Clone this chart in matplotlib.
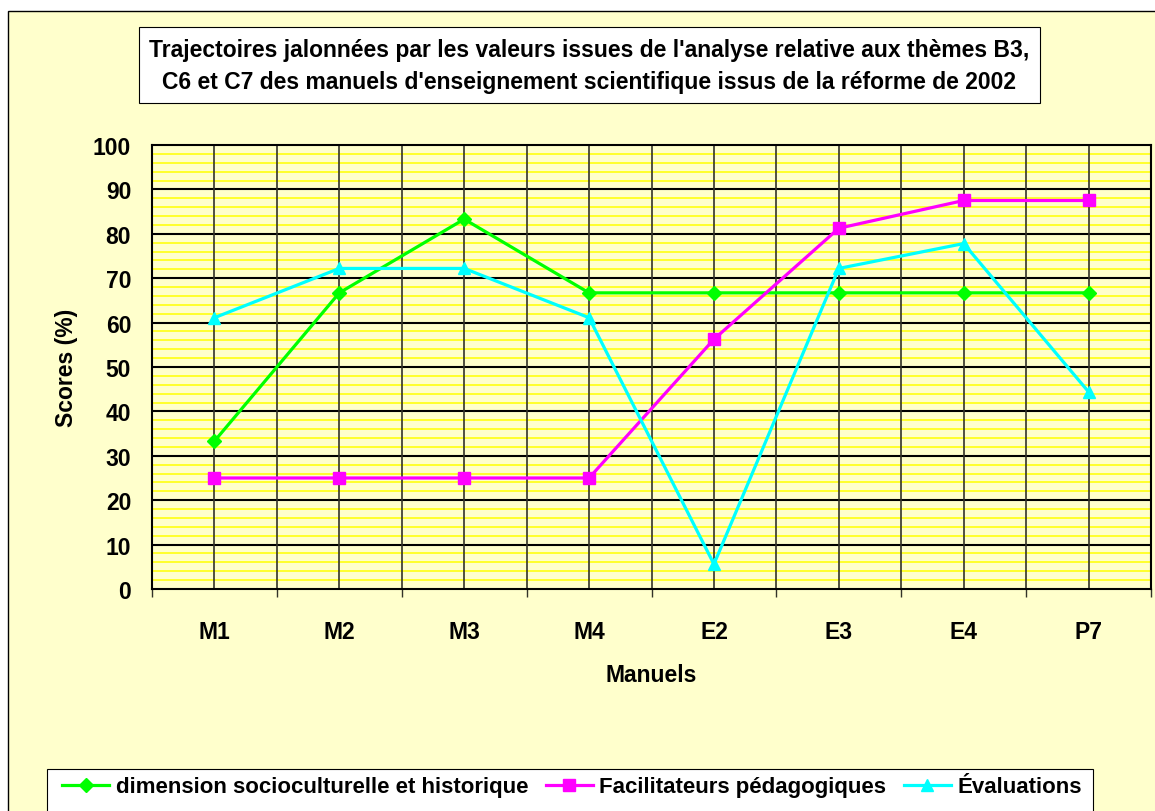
import matplotlib
matplotlib.use("Agg")
import matplotlib.pyplot as plt
from matplotlib.patches import Rectangle
import numpy as np

plt.rcParams['font.family'] = ['Liberation Sans', 'DejaVu Sans']

# Data
manuels = ["M1", "M2", "M3", "M4", "E2", "E3", "E4", "P7"]
socioculturelle = [33.3, 66.7, 83.3, 66.7, 66.7, 66.7, 66.7, 66.7]
facilitateurs = [25.0, 25.0, 25.0, 25.0, 56.25, 81.25, 87.5, 87.5]
evaluations = [61.1, 72.2, 72.2, 61.1, 5.6, 72.2, 77.8, 44.4]

series_labels = ["dimension socioculturelle et historique",
                 "Facilitateurs pédagogiques",
                 "Évaluations"]
title_text = ("Trajectoires jalonnées par les valeurs issues de l'analyse relative aux thèmes B3,\n"
              "C6 et C7 des manuels d'enseignement scientifique issus de la réforme de 2002")

W, H = 1155, 812
bg = "#FFFFCC"
fig = plt.figure(figsize=(W / 100, H / 100), dpi=100)
fig.patch.set_facecolor("white")

def px_rect(x0, y0, x1, y1):
    """Convert pixel box (top-left origin) to figure fraction rect."""
    return [x0 / W, 1 - y1 / H, (x1 - x0) / W, (y1 - y0) / H]

# Chart area background with border (extends past the right/bottom edge)
fig.patches.append(Rectangle((8 / W, 1 - 830 / H), (1175 - 8) / W, (830 - 12) / H,
                             transform=fig.transFigure, facecolor=bg,
                             edgecolor="black", linewidth=1.0, zorder=-5))

ax = fig.add_axes(px_rect(152, 146, 1151, 590))
ax.set_zorder(2)
ax.set_facecolor(bg)

x = np.arange(len(manuels))
ax.set_xlim(-0.5, len(manuels) - 0.5)
ax.set_ylim(0, 100)

# Minor (yellow) and major (black) horizontal grid
for v in np.arange(2, 100, 2):
    if v % 10:
        ax.axhline(v, color="#FFFF00", linewidth=1.1, zorder=1)
for v in np.arange(10, 100, 10):
    ax.axhline(v, color="black", linewidth=1.5, zorder=1.5)
# Vertical grid at category centres and boundaries
for v in np.arange(-0.5, len(manuels), 0.5):
    ax.axvline(v, color="#333328", linewidth=1.2, zorder=1.5)

ax.plot(x, socioculturelle, color="#00FF00", linewidth=2.3, marker="D",
        markersize=7, label=series_labels[0], zorder=3, clip_on=False)
ax.plot(x, facilitateurs, color="#FF00FF", linewidth=2.3, marker="s",
        markersize=8, label=series_labels[1], zorder=3, clip_on=False)
ax.plot(x, evaluations, color="#00FFFF", linewidth=2.3, marker="^",
        markersize=8.5, label=series_labels[2], zorder=3, clip_on=False)

# Axes styling
for s in ax.spines.values():
    s.set_color("black")
    s.set_linewidth(1.5)
    s.set_zorder(4)

ax.set_yticks(np.arange(0, 101, 10))
ax.tick_params(axis="y", length=0, pad=15, labelsize=16.5)
ax.set_xticks(np.arange(-0.5, len(manuels), 1.0))
ax.set_xticklabels([])
ax.set_xticks(x, minor=True)
ax.set_xticklabels(manuels, minor=True)
ax.tick_params(axis="x", which="major", length=6, width=1, direction="out", color="#333328")
ax.tick_params(axis="x", which="minor", length=0, pad=22, labelsize=16.5)
for lab in ax.get_yticklabels() + ax.get_xticklabels(minor=True):
    lab.set_fontweight("bold")

ax.set_xlabel("Manuels", fontsize=16.5, fontweight="bold", labelpad=15)
ax.set_ylabel("Scores (%)", fontsize=16.5, fontweight="bold", labelpad=11)

# Title box
fig.text(589 / W, 1 - 66 / H, title_text, ha="center", va="center",
         fontsize=16.5, fontweight="bold", linespacing=1.5,
         bbox=dict(boxstyle="square,pad=0.45", facecolor="white",
                   edgecolor="black", linewidth=0.8))

# Legend box (lower edge runs past the figure edge)
fig.patches.append(Rectangle((47 / W, 1 - 840 / H), (1093 - 47) / W, (840 - 770) / H,
                             transform=fig.transFigure, facecolor="white",
                             edgecolor="black", linewidth=0.8, zorder=5))
leg = fig.legend(loc="center", bbox_to_anchor=(572 / W, 1 - 788 / H), ncol=3,
                 frameon=False, prop=dict(size=16, weight="bold"),
                 handlelength=2.1, handletextpad=0.3, columnspacing=0.8)
leg.set_zorder(6)

fig.savefig("out.png", dpi=100, facecolor=fig.get_facecolor())
